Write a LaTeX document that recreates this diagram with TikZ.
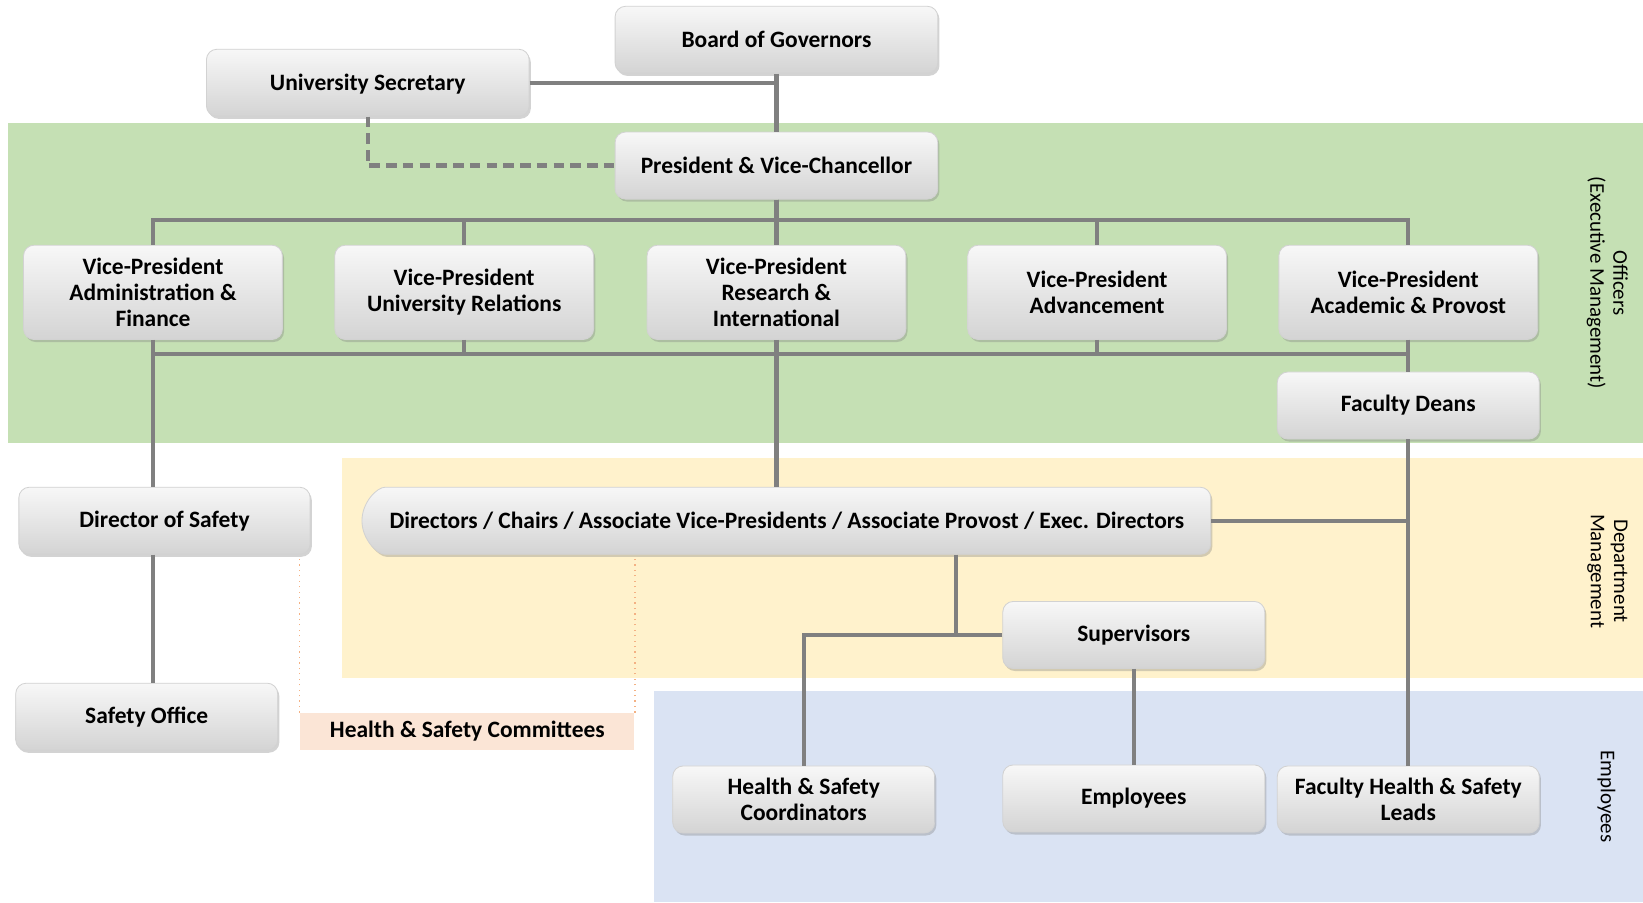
\documentclass[tikz,border=0pt]{standalone}
\usepackage{fontspec}
\setmainfont{Carlito}
\usetikzlibrary{shadows,shapes.misc}
\definecolor{bandgreen}{HTML}{C5E0B4}
\definecolor{bandyellow}{HTML}{FFF2CC}
\definecolor{bandblue}{HTML}{DAE3F3}
\definecolor{peach}{HTML}{FBE5D6}
\definecolor{peachline}{HTML}{F4B183}
\definecolor{linkgray}{HTML}{808080}

\begin{document}
\begin{tikzpicture}[x=0.5pt,y=-0.5pt,
  orgbox/.style={draw=gray!35,rounded corners=5pt,align=center,inner sep=3pt,
    font=\bfseries\fontsize{11.2}{12.5}\selectfont,top color=gray!6,bottom color=gray!34,
    drop shadow={opacity=0.35,shadow xshift=0.8pt,shadow yshift=-1.2pt},
    minimum width=125pt,minimum height=32pt},
  vpbox/.style={orgbox,minimum width=123.5pt,minimum height=45pt},
  widebox/.style={orgbox,minimum width=154pt},
  link/.style={draw=linkgray,line width=2pt},
  dashlink/.style={link,dash pattern=on 5pt off 3pt},
  peachlink/.style={draw=peachline,line width=0.6pt,dotted},
  bandlabel/.style={rotate=-90,align=center,font=\fontsize{10}{11}\selectfont}]
\useasboundingbox (0,0) rectangle (1568,861);
% bands
\fill[bandgreen] (8,117) rectangle (1568,423);
\fill[bandyellow] (326,437) rectangle (1568,647);
\fill[bandblue] (624,659) rectangle (1568,861);
\node[bandlabel] (lblofficers) at (1534,270) {Officers\\(Executive Management)};
\node[bandlabel] (lbldept) at (1534,545) {Department\\Management};
\node[bandlabel] (lblemp) at (1533,760) {Employees};
% boxes
\node[widebox] (bog) at (741,38) {Board of Governors};
\node[widebox,text height=9pt] (usec) at (351,79) {University Secretary};
\node[widebox] (pres) at (741,158) {President \& Vice-Chancellor};
\node[vpbox] (vpadm) at (146,279) {Vice-President\\Administration \&\\Finance};
\node[vpbox] (vprel) at (443,279) {Vice-President\\University Relations};
\node[vpbox] (vpres) at (741,279) {Vice-President\\Research \&\\International};
\node[vpbox] (vpadv) at (1047,279) {Vice-President\\Advancement};
\node[vpbox] (vpaca) at (1344,279) {Vice-President\\Academic \& Provost};
\node[orgbox] (deans) at (1344,387) {Faculty Deans};
\node[orgbox,minimum width=139pt] (dos) at (157,497) {Director of Safety};
\node[orgbox,shape=rounded rectangle,rounded rectangle right arc=none,
  minimum width=411pt] (dirs) at (751,497)
  {Directors / Chairs / Associate Vice-Presidents / Associate Provost / Exec. Directors};
\node[orgbox] (sup) at (1082,606) {Supervisors};
\node[orgbox] (sof) at (140,684) {Safety Office};
\node[fill=peach,minimum width=159.5pt,minimum height=17.5pt,
  font=\bfseries\fontsize{11.2}{12.5}\selectfont] (comm) at (446,698) {Health \& Safety Committees};
\node[orgbox] (hsc) at (767,763) {Health \& Safety\\Coordinators};
\node[orgbox] (emp) at (1082,762) {Employees};
\node[orgbox] (leads) at (1344,763) {Faculty Health \& Safety\\Leads};
% connectors
\coordinate (topbus) at (741,210);
\coordinate (lowbus) at (741,338);
\coordinate (split) at (912,606);
\draw[link] (bog) -- (pres);
\draw[link] (usec) -- (usec -| bog);
\draw[dashlink] (usec.south) |- (pres.west);
\foreach \v in {vpadm,vprel,vpres,vpadv,vpaca} {
  \draw[link] (pres.south) |- (\v.north |- topbus) -- (\v.north);
  \draw[link] (\v.south) -- (\v.south |- lowbus);
}
\draw[link] (vpadm.south |- lowbus) -- (vpaca.south |- lowbus);
\draw[link] (vpadm.south |- lowbus) -- (vpadm.south |- dos.north);
\draw[link] (vpres.south |- lowbus) -- (dirs.north -| vpres.south);
\draw[link] (vpaca) -- (deans);
\draw[link] (deans) -- (leads);
\draw[link] (dirs.east) -- (dirs.east -| deans);
\draw[link] (vpadm.south |- dos.south) -- (vpadm.south |- sof.north);
\draw[link] (split |- dirs.south) -- (split);
\draw[link] (sup.west) -| (hsc.north);
\draw[link] (sup) -- (emp);
\draw[peachlink] (comm.north west) -- (comm.north west |- dos.south);
\draw[peachlink] (comm.north east) -- (comm.north east |- dirs.south);
\end{tikzpicture}
\end{document}
